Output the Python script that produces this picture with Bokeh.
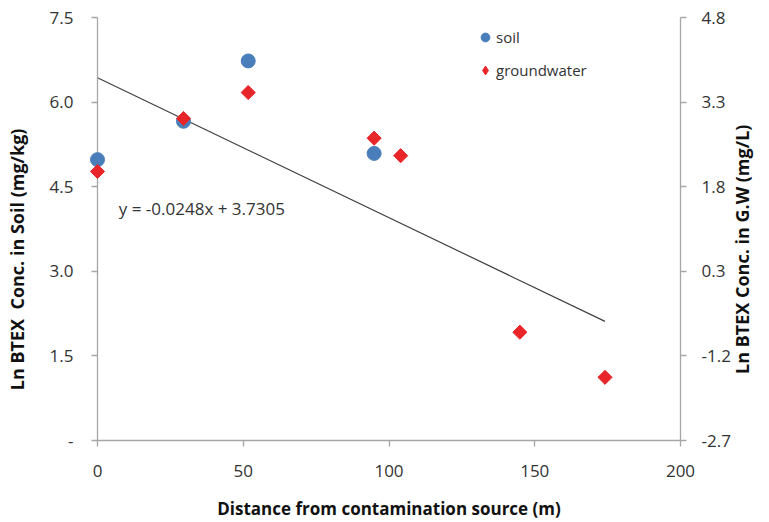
import math
from bokeh.plotting import figure
from bokeh.models import (Range1d, LinearAxis, FixedTicker, PrintfTickFormatter,
                          Label, Legend, LegendItem, ColumnDataSource)
from bokeh.embed import file_html
from bokeh.resources import INLINE

# ---- data ----
soil_x = [0, 29.5, 51.7, 94.9]
soil_y = [4.98, 5.66, 6.73, 5.09]
gw_x = [0, 29.5, 51.7, 94.9, 104.0, 144.9, 174.1]
gw_y = [2.07, 3.01, 3.47, 2.66, 2.35, -0.78, -1.58]
trend_slope = -0.0248
trend_intercept = 3.7305
x_ticks = [0, 50, 100, 150, 200]
left_ticks = [0, 1.5, 3.0, 4.5, 6.0, 7.5]
right_ticks = [-2.7, -1.2, 0.3, 1.8, 3.3, 4.8]
NB = "\u00a0"
x_title = "Distance from contamination source (m)"
left_title = "Ln BTEX" + NB + NB + "Conc. in Soil (mg/kg)"
right_title = "Ln BTEX Conc. in G.W (mg/L)"
right_title_start = -1.52   # where the right title begins (G.W axis units)
eq_text = "y = -0.0248x + 3.7305"

FONT = "Open Sans"
AXIS_COL = "#a6a6a6"
TXT_COL = "#333333"
BLUE = "#4a7ebb"
RED = "#e8262a"

p = figure(width=769, height=522, output_backend="svg", toolbar_location=None,
           x_range=Range1d(0, 200), y_range=Range1d(0, 7.5),
           min_border_left=97, min_border_right=86, min_border_top=17,
           min_border_bottom=80, outline_line_color=None)
p.extra_y_ranges = {"gw": Range1d(-2.7, 4.8)}
p.grid.visible = False

# x axis
xa = p.xaxis[0]
xa.ticker = FixedTicker(ticks=x_ticks)
xa.axis_label = x_title
xa.axis_label_standoff = 17
xa.major_label_standoff = 18

# left axis
ya = p.yaxis[0]
ya.ticker = FixedTicker(ticks=left_ticks)
ya.formatter = PrintfTickFormatter(format="%.1f")
ya.major_label_overrides = {0: "-"}
ya.major_label_standoff = 18
ya.axis_label = left_title + NB * 13
ya.axis_label_standoff = 18

# right axis
ra = LinearAxis(y_range_name="gw", ticker=FixedTicker(ticks=right_ticks),
                formatter=PrintfTickFormatter(format="%.1f"))
ra.major_label_standoff = 15
p.add_layout(ra, "right")

for ax in [xa, ya, ra]:
    ax.axis_line_color = AXIS_COL
    ax.axis_line_width = 1.3
    ax.major_tick_line_color = AXIS_COL
    ax.major_tick_line_width = 1.3
    ax.major_tick_in = 0
    ax.major_tick_out = 6
    ax.minor_tick_line_color = None
    ax.major_label_text_font = FONT
    ax.major_label_text_font_size = "17px"
    ax.major_label_text_color = TXT_COL
    ax.axis_label_text_font = FONT
    ax.axis_label_text_font_style = "bold"
    ax.axis_label_text_color = "#111111"
xa.axis_label_text_font_size = "17px"
ya.axis_label_text_font_size = "18px"

# right title: drawn as the single label of an otherwise invisible axis
rt = LinearAxis(y_range_name="gw", ticker=FixedTicker(ticks=[right_title_start]),
                major_label_overrides={right_title_start: right_title},
                major_label_orientation=math.pi / 2,
                axis_line_color=None, major_tick_line_color=None,
                minor_tick_line_color=None, major_label_standoff=9,
                major_tick_in=0, major_tick_out=0,
                major_label_text_font=FONT, major_label_text_font_style="bold",
                major_label_text_font_size="18px",
                major_label_text_color="#111111")
p.add_layout(rt, "right")

# trend line (on groundwater axis)
tx = [min(gw_x), max(gw_x)]
ty = [trend_slope * v + trend_intercept for v in tx]
p.line(tx, ty, y_range_name="gw", line_color="#404040", line_width=1.2)

# scatter
soil_src = ColumnDataSource(dict(x=soil_x, y=soil_y))
gw_src = ColumnDataSource(dict(x=gw_x, y=gw_y))
r_soil = p.scatter("x", "y", source=soil_src, marker="circle", size=14,
                   fill_color=BLUE, line_color=BLUE, level="overlay")
# diamond glyph (hidden under the rotated squares) used for the legend swatch
r_gw_leg = p.scatter("x", "y", source=gw_src, y_range_name="gw", marker="diamond",
                     size=12, fill_color=RED, line_color=RED, level="overlay")
r_gw = p.scatter("x", "y", source=gw_src, y_range_name="gw", marker="square",
                 size=10, angle=math.pi / 4, fill_color=RED,
                 line_color=RED, level="overlay")

leg = Legend(items=[LegendItem(label="soil", renderers=[r_soil]),
                    LegendItem(label="groundwater", renderers=[r_gw_leg])],
             location=(377, 359), border_line_color=None,
             background_fill_alpha=0, padding=0, margin=0, spacing=11,
             glyph_width=22, glyph_height=22, label_height=20,
             label_standoff=0, label_text_font=FONT,
             label_text_font_size="15px", label_text_color=TXT_COL)
p.add_layout(leg)

# equation
p.add_layout(Label(x=7.3, y=4.11, text=eq_text, text_font=FONT,
                   text_font_size="17px", text_color=TXT_COL,
                   text_baseline="middle", text_align="left"))

open("out.html", "w").write(file_html(p, INLINE))
